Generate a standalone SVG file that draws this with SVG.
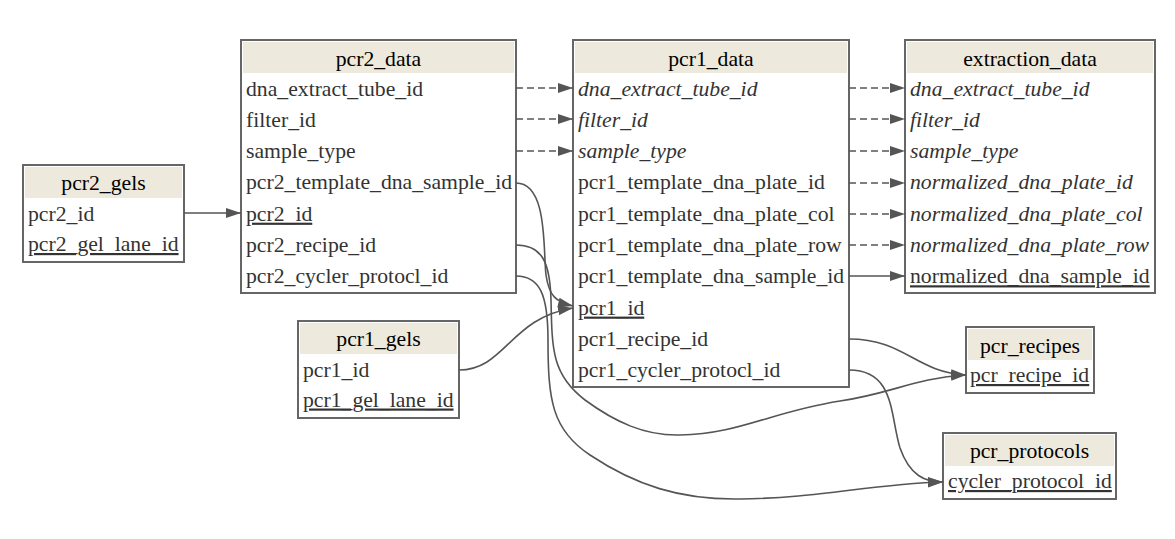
<svg xmlns="http://www.w3.org/2000/svg" width="1175" height="539" viewBox="0 0 1175 539">
<style>
.box{fill:#fff;stroke:#666;stroke-width:2}
.hdr{fill:#ede9dc}
.t{font-family:"Liberation Serif","Times New Roman",serif;font-size:21.7px;fill:#000;text-anchor:middle}
.f{font-family:"Liberation Serif","Times New Roman",serif;font-size:21.7px;fill:#333}
.i{font-style:italic}
.u{text-decoration:underline}
.e{fill:none;stroke:#555;stroke-width:1.6}
.d{stroke-dasharray:7,4}
</style>
<defs>
<marker id="ah" markerUnits="userSpaceOnUse" markerWidth="16" markerHeight="12" refX="15" refY="6" orient="auto">
<path d="M0,1 L15,6 L0,11 z" fill="#555"/>
</marker>
</defs>
<rect width="1175" height="539" fill="#fff"/>

<g id="pcr2_gels">
<rect class="box" x="23" y="165" width="161" height="97"/>
<rect class="hdr" x="25" y="167" width="157" height="31"/>
<text class="t" x="103.5" y="189.5">pcr2_gels</text>
<text class="f" x="28" y="221">pcr2_id</text>
<text class="f u" x="28" y="251">pcr2_gel_lane_id</text>
</g>

<g id="pcr2_data">
<rect class="box" x="241" y="40" width="275" height="253"/>
<rect class="hdr" x="243" y="42" width="271" height="31"/>
<text class="t" x="378.5" y="66">pcr2_data</text>
<text class="f" x="246" y="95.5">dna_extract_tube_id</text>
<text class="f" x="246" y="126.8">filter_id</text>
<text class="f" x="246" y="158.1">sample_type</text>
<text class="f" x="246" y="189.4">pcr2_template_dna_sample_id</text>
<text class="f u" x="246" y="220.7">pcr2_id</text>
<text class="f" x="246" y="252">pcr2_recipe_id</text>
<text class="f" x="246" y="283.3">pcr2_cycler_protocl_id</text>
</g>

<g id="pcr1_data">
<rect class="box" x="573" y="40" width="276" height="347"/>
<rect class="hdr" x="575" y="42" width="272" height="31"/>
<text class="t" x="711" y="66">pcr1_data</text>
<text class="f i" x="578" y="95.5">dna_extract_tube_id</text>
<text class="f i" x="578" y="126.8">filter_id</text>
<text class="f i" x="578" y="158.1">sample_type</text>
<text class="f" x="578" y="189.4">pcr1_template_dna_plate_id</text>
<text class="f" x="578" y="220.7">pcr1_template_dna_plate_col</text>
<text class="f" x="578" y="252">pcr1_template_dna_plate_row</text>
<text class="f" x="578" y="283.3">pcr1_template_dna_sample_id</text>
<text class="f u" x="578" y="314.6">pcr1_id</text>
<text class="f" x="578" y="345.9">pcr1_recipe_id</text>
<text class="f" x="578" y="377.2">pcr1_cycler_protocl_id</text>
</g>

<g id="extraction_data">
<rect class="box" x="905" y="40" width="250" height="253"/>
<rect class="hdr" x="907" y="42" width="246" height="31"/>
<text class="t" x="1030" y="66">extraction_data</text>
<text class="f i" x="910" y="95.5">dna_extract_tube_id</text>
<text class="f i" x="910" y="126.8">filter_id</text>
<text class="f i" x="910" y="158.1">sample_type</text>
<text class="f i" x="910" y="189.4">normalized_dna_plate_id</text>
<text class="f i" x="910" y="220.7">normalized_dna_plate_col</text>
<text class="f i" x="910" y="252">normalized_dna_plate_row</text>
<text class="f u" x="910" y="283.3">normalized_dna_sample_id</text>
</g>

<g id="pcr1_gels">
<rect class="box" x="298" y="321" width="161" height="97"/>
<rect class="hdr" x="300" y="323" width="157" height="31"/>
<text class="t" x="378.5" y="345.5">pcr1_gels</text>
<text class="f" x="303" y="376.5">pcr1_id</text>
<text class="f u" x="303" y="406.5">pcr1_gel_lane_id</text>
</g>

<g id="pcr_recipes">
<rect class="box" x="966" y="327" width="128" height="66"/>
<rect class="hdr" x="968" y="329" width="124" height="31"/>
<text class="t" x="1030" y="352.5">pcr_recipes</text>
<text class="f u" x="970" y="382">pcr_recipe_id</text>
</g>

<g id="pcr_protocols">
<rect class="box" x="943" y="433" width="173" height="66"/>
<rect class="hdr" x="945" y="435" width="169" height="31"/>
<text class="t" x="1029.5" y="457.5">pcr_protocols</text>
<text class="f u" x="948" y="488">cycler_protocol_id</text>
</g>

<g id="connectors">
<path class="e" marker-end="url(#ah)" d="M184,213 L241,213"/>
<path class="e d" marker-end="url(#ah)" d="M516,88 L573,88"/>
<path class="e d" marker-end="url(#ah)" d="M516,119 L573,119"/>
<path class="e d" marker-end="url(#ah)" d="M516,151 L573,151"/>
<path class="e d" marker-end="url(#ah)" d="M849,88 L905,88"/>
<path class="e d" marker-end="url(#ah)" d="M849,119 L905,119"/>
<path class="e d" marker-end="url(#ah)" d="M849,151 L905,151"/>
<path class="e d" marker-end="url(#ah)" d="M849,183 L905,183"/>
<path class="e d" marker-end="url(#ah)" d="M849,214 L905,214"/>
<path class="e d" marker-end="url(#ah)" d="M849,245 L905,245"/>
<path class="e" marker-end="url(#ah)" d="M849,276 L905,276"/>
<path class="e" marker-end="url(#ah)" d="M516,183 C548,183 543,250 546,275 C549,296 556,302 573,306"/>
<path class="e" marker-end="url(#ah)" d="M459,370 C505,370 510,318 573,308"/>
<path class="e" marker-end="url(#ah)" d="M516,245 C542,245 550,262 551,300 C552,350 552,375 585,400 C615,422 645,436 680,435 C740,434 770,412 840,401 C890,394 915,378 966,375"/>
<path class="e" marker-end="url(#ah)" d="M516,276 C540,276 548,295 548,340 C548,400 552,430 590,455 C635,485 680,500 740,499 C820,498 870,484 943,482"/>
<path class="e" marker-end="url(#ah)" d="M849,339 C905,339 915,372 966,375"/>
<path class="e" marker-end="url(#ah)" d="M849,370 C895,370 890,415 900,448 C910,476 925,482 943,482"/>
</g>
</svg>
